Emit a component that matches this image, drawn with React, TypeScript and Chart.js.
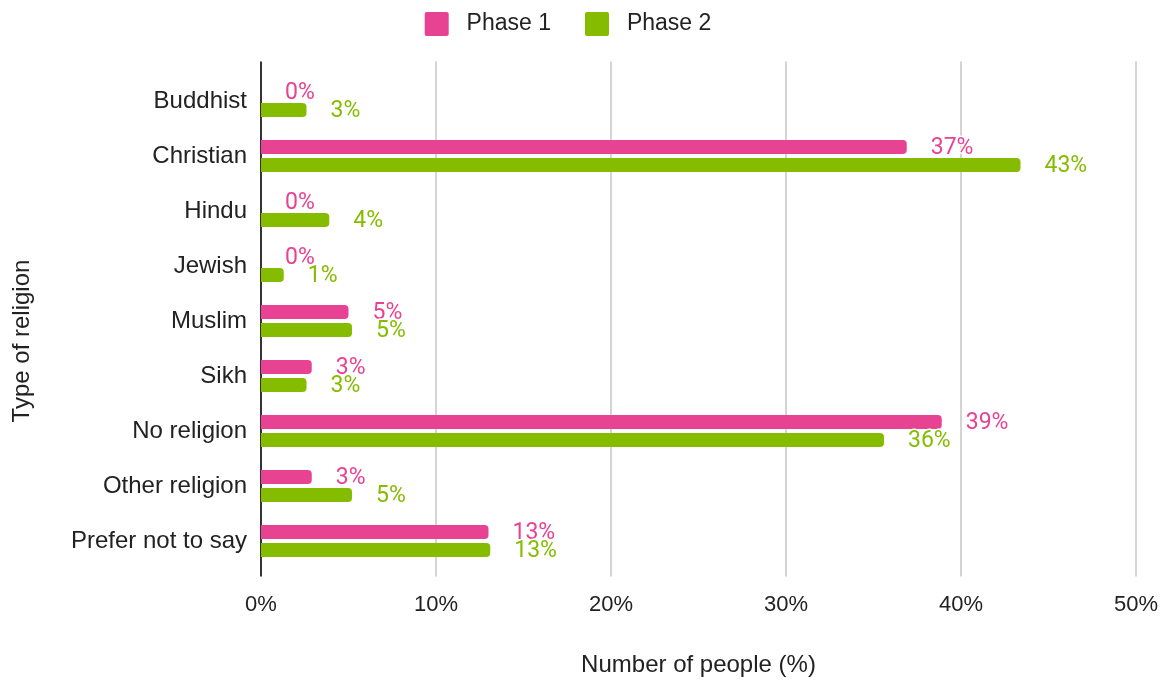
import React, { useEffect, useRef } from 'react';
import { Chart, registerables } from 'chart.js';

Chart.register(...registerables);

const categories = [
  'Buddhist',
  'Christian',
  'Hindu',
  'Jewish',
  'Muslim',
  'Sikh',
  'No religion',
  'Other religion',
  'Prefer not to say',
];
const seriesNames = ['Phase 1', 'Phase 2'];
const phase1 = [0, 36.9, 0, 0, 5.0, 2.9, 38.9, 2.9, 13.0];
const phase2 = [2.6, 43.4, 3.9, 1.3, 5.2, 2.6, 35.6, 5.2, 13.1];
const xTicks = [0, 10, 20, 30, 40, 50];
const xTitle = 'Number of people (%)';
const yTitle = 'Type of religion';

const PINK = '#E84393';
const GREEN = '#86BC00';
const FONT = "'Liberation Sans', Arial, sans-serif";
const TEXT = '#222222';

const gridPlugin = {
  id: 'customGrid',
  beforeDatasetsDraw(chart: any) {
    const { ctx, chartArea } = chart;
    const xs = chart.scales.x;
    ctx.save();
    xTicks.forEach((t) => {
      const px = xs.getPixelForValue(t);
      ctx.beginPath();
      ctx.lineWidth = 2;
      ctx.strokeStyle = t === 0 ? '#333333' : '#d4d4d4';
      ctx.moveTo(px, chartArea.top - 12);
      ctx.lineTo(px, chartArea.bottom + 8);
      ctx.stroke();
    });
    ctx.restore();
  },
};

const labelPlugin = {
  id: 'valueLabels',
  afterDatasetsDraw(chart: any) {
    const { ctx } = chart;
    ctx.save();
    ctx.font = "23px Roboto, 'Liberation Sans', sans-serif";
    ctx.textAlign = 'left';
    ctx.textBaseline = 'middle';
    ctx.lineJoin = 'round';
    chart.data.datasets.forEach((ds: any, di: number) => {
      const meta = chart.getDatasetMeta(di);
      meta.data.forEach((bar: any, i: number) => {
        const v = ds.data[i];
        const txt = Math.round(v) + '%';
        const x = bar.x + 24;
        const y = bar.y + 1;
        ctx.strokeStyle = '#ffffff';
        ctx.lineWidth = 3;
        ctx.strokeText(txt, x, y);
        ctx.fillStyle = ds.backgroundColor;
        ctx.fillText(txt, x, y);
      });
    });
    ctx.restore();
  },
};

const legendHeightPlugin = {
  id: 'legendHeight',
  afterInit(chart: any) {
    const legend = chart.legend;
    if (legend && !legend.__patched) {
      const fit = legend.fit;
      legend.fit = function () {
        fit.call(this);
        this.height += 27.5;
      };
      legend.__patched = true;
    }
  },
};

export default function App() {
  const ref = useRef<HTMLCanvasElement | null>(null);

  useEffect(() => {
    if (!ref.current) return;
    const chart = new Chart(ref.current, {
      type: 'bar',
      data: {
        labels: categories,
        datasets: [
          {
            label: seriesNames[0],
            data: phase1,
            backgroundColor: PINK,
            borderWidth: 0,
            borderRadius: 4,
            categoryPercentage: 36 / 55,
            barPercentage: 14 / 18,
          },
          {
            label: seriesNames[1],
            data: phase2,
            backgroundColor: GREEN,
            borderWidth: 0,
            borderRadius: 4,
            categoryPercentage: 36 / 55,
            barPercentage: 14 / 18,
          },
        ],
      },
      options: {
        indexAxis: 'y',
        responsive: false,
        animation: false,
        layout: { padding: { top: -22, right: 32, bottom: 0, left: 0 } },
        plugins: {
          tooltip: { enabled: false },
          legend: {
            position: 'top',
            labels: {
              boxWidth: 24,
              boxHeight: 24,
              padding: 34,
              color: TEXT,
              useBorderRadius: true,
              borderRadius: 2,
              font: { family: FONT, size: 23 },
              generateLabels: (c: any) =>
                Chart.defaults.plugins.legend.labels
                  .generateLabels(c)
                  .map((l: any) => ({ ...l, text: ' ' + l.text, lineWidth: 0 })),
            },
          },
        },
        scales: {
          x: {
            type: 'linear',
            min: 0,
            max: 50,
            afterFit: (s: any) => {
              s.height = 115.5;
              s.paddingLeft = 0;
              s.paddingRight = 0;
            },
            afterBuildTicks: (s: any) => {
              s.ticks = xTicks.map((v) => ({ value: v }));
            },
            grid: { display: false, drawTicks: false },
            border: { display: false },
            ticks: {
              padding: 23,
              color: TEXT,
              font: { family: FONT, size: 22 },
              callback: (v: any) => v + '%',
            },
            title: {
              display: true,
              text: xTitle,
              color: TEXT,
              font: { family: FONT, size: 24 },
              padding: { top: 0, bottom: 4 },
            },
          },
          y: {
            afterFit: (s: any) => {
              s.width = 261;
            },
            grid: { display: false, drawTicks: false },
            border: { display: false },
            ticks: {
              padding: 14,
              color: TEXT,
              font: { family: FONT, size: 24 },
              autoSkip: false,
            },
            title: {
              display: true,
              text: yTitle + '      ',
              color: TEXT,
              font: { family: FONT, size: 24 },
              padding: { top: 8, bottom: 0 },
            },
          },
        },
      },
      plugins: [legendHeightPlugin, gridPlugin, labelPlugin],
    } as any);
    return () => chart.destroy();
  }, []);

  return (
    <div style={{ position: 'absolute', left: 0, top: 0, width: 1168, height: 684 }}>
      <canvas ref={ref} width={1168} height={684} style={{ display: 'block' }} />
    </div>
  );
}
